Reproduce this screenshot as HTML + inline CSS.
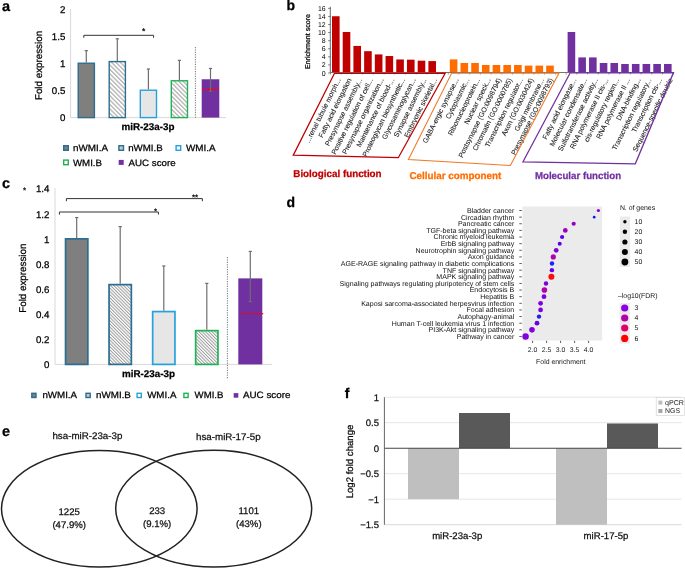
<!DOCTYPE html>
<html><head><meta charset="utf-8"><style>
html,body{margin:0;padding:0;background:#fff;}
svg{display:block;font-family:"Liberation Sans", sans-serif;text-rendering:geometricPrecision;will-change:transform;}
</style></head><body>
<svg width="685" height="569" viewBox="0 0 685 569">
<rect width="685" height="569" fill="#fff"/>
<defs><pattern id="hatchA" patternUnits="userSpaceOnUse" width="3.1" height="4" patternTransform="rotate(-45)"><rect width="3.1" height="4" fill="#fff"/><line x1="0.7" y1="0" x2="0.7" y2="4" stroke="#a0a0a0" stroke-width="1.05"/></pattern><pattern id="hatchC" patternUnits="userSpaceOnUse" width="2.3" height="4" patternTransform="rotate(-45)"><rect width="2.3" height="4" fill="#fff"/><line x1="0.5" y1="0" x2="0.5" y2="4" stroke="#9c9c9c" stroke-width="1.0"/></pattern></defs>
<line x1="70.60" y1="9.00" x2="70.60" y2="117.60" stroke="#d9d9d9" stroke-width="1" />
<line x1="70.60" y1="117.60" x2="226.00" y2="117.60" stroke="#d9d9d9" stroke-width="1" />
<rect x="78.20" y="63.22" width="16.20" height="54.38" fill="#7f7f7f" stroke="#2c6e90" stroke-width="1.4" />
<rect x="109.20" y="61.60" width="16.20" height="56.00" fill="url(#hatchA)" stroke="#2c6e90" stroke-width="1.4" />
<rect x="140.30" y="90.22" width="16.20" height="27.38" fill="#e7e6e6" stroke="#27a0de" stroke-width="1.4" />
<rect x="171.30" y="80.77" width="16.20" height="36.83" fill="url(#hatchA)" stroke="#1fb254" stroke-width="1.4" />
<rect x="201.70" y="79.26" width="17.60" height="38.34" fill="#7030a0" stroke="none" stroke-width="0" />
<line x1="86.30" y1="50.64" x2="86.30" y2="62.52" stroke="#6e6e6e" stroke-width="1.2" />
<line x1="84.70" y1="50.64" x2="87.90" y2="50.64" stroke="#6e6e6e" stroke-width="1.2" />
<line x1="117.30" y1="38.76" x2="117.30" y2="60.90" stroke="#6e6e6e" stroke-width="1.2" />
<line x1="115.70" y1="38.76" x2="118.90" y2="38.76" stroke="#6e6e6e" stroke-width="1.2" />
<line x1="148.40" y1="69.00" x2="148.40" y2="89.52" stroke="#6e6e6e" stroke-width="1.2" />
<line x1="146.80" y1="69.00" x2="150.00" y2="69.00" stroke="#6e6e6e" stroke-width="1.2" />
<line x1="179.40" y1="60.36" x2="179.40" y2="80.07" stroke="#6e6e6e" stroke-width="1.2" />
<line x1="177.80" y1="60.36" x2="181.00" y2="60.36" stroke="#6e6e6e" stroke-width="1.2" />
<line x1="210.50" y1="68.46" x2="210.50" y2="91.14" stroke="#6e6e6e" stroke-width="1.2" />
<line x1="208.90" y1="68.46" x2="212.10" y2="68.46" stroke="#6e6e6e" stroke-width="1.2" />
<line x1="208.90" y1="91.14" x2="212.10" y2="91.14" stroke="#6e6e6e" stroke-width="1.2" />
<line x1="202.00" y1="89.52" x2="219.20" y2="89.52" stroke="#ff0000" stroke-width="1.3" stroke-dasharray="2.0,1.0"/>
<line x1="195.40" y1="47.00" x2="195.40" y2="117.60" stroke="#555" stroke-width="0.8" stroke-dasharray="1.2,1.2"/>
<text x="2.00" y="10.60" font-size="14.5" text-anchor="start" font-weight="bold" fill="#000" stroke="#000" stroke-width="0.25" >a</text>
<text x="65.30" y="13.20" font-size="9.7" text-anchor="end" font-weight="normal" fill="#000" stroke="#000" stroke-width="0.25" >2</text>
<text x="65.30" y="40.20" font-size="9.7" text-anchor="end" font-weight="normal" fill="#000" stroke="#000" stroke-width="0.25" >1.5</text>
<text x="65.30" y="67.20" font-size="9.7" text-anchor="end" font-weight="normal" fill="#000" stroke="#000" stroke-width="0.25" >1</text>
<text x="65.30" y="94.20" font-size="9.7" text-anchor="end" font-weight="normal" fill="#000" stroke="#000" stroke-width="0.25" >0.5</text>
<text x="65.30" y="121.20" font-size="9.7" text-anchor="end" font-weight="normal" fill="#000" stroke="#000" stroke-width="0.25" >0</text>
<text transform="translate(42.2,65.5) rotate(-90)" font-size="9.8" stroke="#000" stroke-width="0.25" text-anchor="middle" fill="#000">Fold expression</text>
<text x="148.00" y="129.80" font-size="9.8" text-anchor="middle" font-weight="bold" fill="#000" stroke="#000" stroke-width="0.25" >miR-23a-3p</text>
<path d="M83.8,37.8 V35.3 H153.6 V37.8" fill="none" stroke="#333" stroke-width="1"/>
<text x="143.60" y="34.00" font-size="8.5" text-anchor="middle" font-weight="normal" fill="#000" stroke="#000" stroke-width="0.25" >*</text>
<rect x="63.70" y="145.70" width="4.60" height="4.60" fill="#7f7f7f" stroke="#2c6e90" stroke-width="1.4" />
<text x="73.00" y="151.20" font-size="9.2" text-anchor="start" font-weight="normal" fill="#000" stroke="#000" stroke-width="0.25" textLength="35" lengthAdjust="spacingAndGlyphs" >nWMI.A</text>
<rect x="118.90" y="145.70" width="4.60" height="4.60" fill="#c8c8c8" stroke="#2c6e90" stroke-width="1.4" />
<text x="128.20" y="151.20" font-size="9.2" text-anchor="start" font-weight="normal" fill="#000" stroke="#000" stroke-width="0.25" textLength="34.5" lengthAdjust="spacingAndGlyphs" >nWMI.B</text>
<rect x="176.10" y="145.70" width="4.60" height="4.60" fill="#ffffff" stroke="#27a0de" stroke-width="1.4" />
<text x="186.00" y="151.20" font-size="9.2" text-anchor="start" font-weight="normal" fill="#000" stroke="#000" stroke-width="0.25" textLength="29.6" lengthAdjust="spacingAndGlyphs" >WMI.A</text>
<rect x="63.70" y="160.10" width="4.60" height="4.60" fill="#ffffff" stroke="#1fb254" stroke-width="1.4" />
<text x="73.00" y="165.60" font-size="9.2" text-anchor="start" font-weight="normal" fill="#000" stroke="#000" stroke-width="0.25" textLength="29" lengthAdjust="spacingAndGlyphs" >WMI.B</text>
<rect x="118.70" y="159.90" width="5.00" height="5.00" fill="#7030a0" stroke="none" stroke-width="0" />
<text x="128.60" y="165.60" font-size="9.2" text-anchor="start" font-weight="normal" fill="#000" stroke="#000" stroke-width="0.25" textLength="47" lengthAdjust="spacingAndGlyphs" >AUC score</text>
<line x1="55.00" y1="188.00" x2="55.00" y2="364.40" stroke="#d9d9d9" stroke-width="1" />
<line x1="55.00" y1="364.40" x2="272.00" y2="364.40" stroke="#d9d9d9" stroke-width="1" />
<rect x="65.55" y="238.85" width="22.30" height="125.55" fill="#7f7f7f" stroke="#2c6e90" stroke-width="1.7" />
<rect x="109.05" y="284.62" width="22.30" height="79.78" fill="url(#hatchC)" stroke="#2c6e90" stroke-width="1.7" />
<rect x="152.65" y="311.58" width="22.30" height="52.82" fill="#e7e6e6" stroke="#27a0de" stroke-width="1.7" />
<rect x="195.65" y="330.64" width="22.30" height="33.76" fill="url(#hatchC)" stroke="#1fb254" stroke-width="1.7" />
<rect x="238.30" y="278.38" width="24.00" height="86.02" fill="#7030a0" stroke="none" stroke-width="0" />
<line x1="76.70" y1="217.56" x2="76.70" y2="238.00" stroke="#6e6e6e" stroke-width="1.2" />
<line x1="75.10" y1="217.56" x2="78.30" y2="217.56" stroke="#6e6e6e" stroke-width="1.2" />
<line x1="120.20" y1="226.59" x2="120.20" y2="283.77" stroke="#6e6e6e" stroke-width="1.2" />
<line x1="118.60" y1="226.59" x2="121.80" y2="226.59" stroke="#6e6e6e" stroke-width="1.2" />
<line x1="163.80" y1="265.96" x2="163.80" y2="310.73" stroke="#6e6e6e" stroke-width="1.2" />
<line x1="162.20" y1="265.96" x2="165.40" y2="265.96" stroke="#6e6e6e" stroke-width="1.2" />
<line x1="206.80" y1="283.39" x2="206.80" y2="329.79" stroke="#6e6e6e" stroke-width="1.2" />
<line x1="205.20" y1="283.39" x2="208.40" y2="283.39" stroke="#6e6e6e" stroke-width="1.2" />
<line x1="250.30" y1="251.41" x2="250.30" y2="301.57" stroke="#6e6e6e" stroke-width="1.2" />
<line x1="248.70" y1="251.41" x2="251.90" y2="251.41" stroke="#6e6e6e" stroke-width="1.2" />
<line x1="248.70" y1="301.57" x2="251.90" y2="301.57" stroke="#6e6e6e" stroke-width="1.2" />
<line x1="241.00" y1="313.61" x2="264.00" y2="313.61" stroke="#ff0000" stroke-width="1.4" stroke-dasharray="1.9,1.0"/>
<line x1="227.40" y1="257.00" x2="227.40" y2="379.00" stroke="#555" stroke-width="0.8" stroke-dasharray="1.2,1.2"/>
<text x="2.00" y="188.30" font-size="14.5" text-anchor="start" font-weight="bold" fill="#000" stroke="#000" stroke-width="0.25" >c</text>
<text x="24.60" y="193.00" font-size="8" text-anchor="middle" font-weight="normal" fill="#000" stroke="#000" stroke-width="0.25" >*</text>
<text x="49.40" y="192.44" font-size="9.7" text-anchor="end" font-weight="normal" fill="#000" stroke="#000" stroke-width="0.25" >1.4</text>
<text x="49.40" y="217.52" font-size="9.7" text-anchor="end" font-weight="normal" fill="#000" stroke="#000" stroke-width="0.25" >1.2</text>
<text x="49.40" y="242.60" font-size="9.7" text-anchor="end" font-weight="normal" fill="#000" stroke="#000" stroke-width="0.25" >1</text>
<text x="49.40" y="267.68" font-size="9.7" text-anchor="end" font-weight="normal" fill="#000" stroke="#000" stroke-width="0.25" >0.8</text>
<text x="49.40" y="292.76" font-size="9.7" text-anchor="end" font-weight="normal" fill="#000" stroke="#000" stroke-width="0.25" >0.6</text>
<text x="49.40" y="317.84" font-size="9.7" text-anchor="end" font-weight="normal" fill="#000" stroke="#000" stroke-width="0.25" >0.4</text>
<text x="49.40" y="342.92" font-size="9.7" text-anchor="end" font-weight="normal" fill="#000" stroke="#000" stroke-width="0.25" >0.2</text>
<text x="49.40" y="368.00" font-size="9.7" text-anchor="end" font-weight="normal" fill="#000" stroke="#000" stroke-width="0.25" >0</text>
<text transform="translate(25.8,278.2) rotate(-90)" font-size="9.8" stroke="#000" stroke-width="0.25" text-anchor="middle" fill="#000">Fold expression</text>
<text x="148.50" y="376.90" font-size="9.8" text-anchor="middle" font-weight="bold" fill="#000" stroke="#000" stroke-width="0.25" >miR-23a-3p</text>
<path d="M66.4,201.2 V198.6 H202.4 V201.2" fill="none" stroke="#333" stroke-width="1"/>
<path d="M59.4,214.6 V212.0 H158.4 V214.6" fill="none" stroke="#333" stroke-width="1"/>
<text x="195.00" y="200.20" font-size="8" text-anchor="middle" font-weight="normal" fill="#000" stroke="#000" stroke-width="0.25" >**</text>
<text x="155.60" y="213.80" font-size="8" text-anchor="middle" font-weight="normal" fill="#000" stroke="#000" stroke-width="0.25" >*</text>
<rect x="31.80" y="393.30" width="4.20" height="4.20" fill="#7f7f7f" stroke="#2c6e90" stroke-width="1.4" />
<text x="42.40" y="398.40" font-size="9.2" text-anchor="start" font-weight="normal" fill="#000" stroke="#000" stroke-width="0.25" textLength="34.7" lengthAdjust="spacingAndGlyphs" >nWMI.A</text>
<rect x="86.00" y="393.30" width="4.20" height="4.20" fill="#c8c8c8" stroke="#2c6e90" stroke-width="1.4" />
<text x="96.10" y="398.40" font-size="9.2" text-anchor="start" font-weight="normal" fill="#000" stroke="#000" stroke-width="0.25" textLength="34.8" lengthAdjust="spacingAndGlyphs" >nWMI.B</text>
<rect x="137.10" y="393.30" width="4.20" height="4.20" fill="#ffffff" stroke="#27a0de" stroke-width="1.4" />
<text x="147.20" y="398.40" font-size="9.2" text-anchor="start" font-weight="normal" fill="#000" stroke="#000" stroke-width="0.25" textLength="29.2" lengthAdjust="spacingAndGlyphs" >WMI.A</text>
<rect x="183.90" y="393.30" width="4.20" height="4.20" fill="#ffffff" stroke="#1fb254" stroke-width="1.4" />
<text x="194.60" y="398.40" font-size="9.2" text-anchor="start" font-weight="normal" fill="#000" stroke="#000" stroke-width="0.25" textLength="28.8" lengthAdjust="spacingAndGlyphs" >WMI.B</text>
<rect x="233.70" y="393.10" width="4.60" height="4.60" fill="#7030a0" stroke="none" stroke-width="0" />
<text x="243.00" y="398.40" font-size="9.2" text-anchor="start" font-weight="normal" fill="#000" stroke="#000" stroke-width="0.25" textLength="47.4" lengthAdjust="spacingAndGlyphs" >AUC score</text>
<text x="286.60" y="10.20" font-size="14" text-anchor="start" font-weight="bold" fill="#000" stroke="#000" stroke-width="0.25" >b</text>
<line x1="330.30" y1="6.80" x2="330.30" y2="73.00" stroke="#555" stroke-width="0.9" />
<line x1="328.20" y1="73.00" x2="330.30" y2="73.00" stroke="#555" stroke-width="0.8" />
<text x="325.60" y="75.50" font-size="7.0" text-anchor="end" font-weight="normal" fill="#000" textLength="3.9" lengthAdjust="spacingAndGlyphs" >0</text>
<line x1="328.20" y1="64.92" x2="330.30" y2="64.92" stroke="#555" stroke-width="0.8" />
<text x="325.60" y="67.42" font-size="7.0" text-anchor="end" font-weight="normal" fill="#000" textLength="3.9" lengthAdjust="spacingAndGlyphs" >2</text>
<line x1="328.20" y1="56.84" x2="330.30" y2="56.84" stroke="#555" stroke-width="0.8" />
<text x="325.60" y="59.34" font-size="7.0" text-anchor="end" font-weight="normal" fill="#000" textLength="3.9" lengthAdjust="spacingAndGlyphs" >4</text>
<line x1="328.20" y1="48.76" x2="330.30" y2="48.76" stroke="#555" stroke-width="0.8" />
<text x="325.60" y="51.26" font-size="7.0" text-anchor="end" font-weight="normal" fill="#000" textLength="3.9" lengthAdjust="spacingAndGlyphs" >6</text>
<line x1="328.20" y1="40.68" x2="330.30" y2="40.68" stroke="#555" stroke-width="0.8" />
<text x="325.60" y="43.18" font-size="7.0" text-anchor="end" font-weight="normal" fill="#000" textLength="3.9" lengthAdjust="spacingAndGlyphs" >8</text>
<line x1="328.20" y1="32.60" x2="330.30" y2="32.60" stroke="#555" stroke-width="0.8" />
<text x="325.60" y="35.10" font-size="7.0" text-anchor="end" font-weight="normal" fill="#000" textLength="7.7" lengthAdjust="spacingAndGlyphs" >10</text>
<line x1="328.20" y1="24.52" x2="330.30" y2="24.52" stroke="#555" stroke-width="0.8" />
<text x="325.60" y="27.02" font-size="7.0" text-anchor="end" font-weight="normal" fill="#000" textLength="7.7" lengthAdjust="spacingAndGlyphs" >12</text>
<line x1="328.20" y1="16.44" x2="330.30" y2="16.44" stroke="#555" stroke-width="0.8" />
<text x="325.60" y="18.94" font-size="7.0" text-anchor="end" font-weight="normal" fill="#000" textLength="7.7" lengthAdjust="spacingAndGlyphs" >14</text>
<line x1="328.20" y1="8.36" x2="330.30" y2="8.36" stroke="#555" stroke-width="0.8" />
<text x="325.60" y="10.86" font-size="7.0" text-anchor="end" font-weight="normal" fill="#000" textLength="7.7" lengthAdjust="spacingAndGlyphs" >16</text>
<text transform="translate(310.0,41.5) rotate(-90)" font-size="7" stroke="#000" stroke-width="0.25" text-anchor="middle" fill="#000" textLength="55" lengthAdjust="spacingAndGlyphs">Enrichment score</text>
<rect x="332.00" y="16.24" width="7.60" height="56.36" fill="#c00000" stroke="none" stroke-width="0" />
<rect x="342.71" y="31.99" width="7.60" height="40.61" fill="#c00000" stroke="none" stroke-width="0" />
<rect x="353.42" y="45.93" width="7.60" height="26.67" fill="#c00000" stroke="none" stroke-width="0" />
<rect x="364.13" y="51.18" width="7.60" height="21.42" fill="#c00000" stroke="none" stroke-width="0" />
<rect x="374.84" y="54.42" width="7.60" height="18.18" fill="#c00000" stroke="none" stroke-width="0" />
<rect x="385.55" y="56.03" width="7.60" height="16.57" fill="#c00000" stroke="none" stroke-width="0" />
<rect x="396.26" y="59.47" width="7.60" height="13.13" fill="#c00000" stroke="none" stroke-width="0" />
<rect x="406.97" y="59.67" width="7.60" height="12.93" fill="#c00000" stroke="none" stroke-width="0" />
<rect x="417.68" y="60.68" width="7.60" height="11.92" fill="#c00000" stroke="none" stroke-width="0" />
<rect x="428.39" y="61.08" width="7.60" height="11.52" fill="#c00000" stroke="none" stroke-width="0" />
<rect x="449.81" y="59.39" width="7.60" height="13.21" fill="#ff6d00" stroke="none" stroke-width="0" />
<rect x="460.52" y="62.98" width="7.60" height="9.62" fill="#ff6d00" stroke="none" stroke-width="0" />
<rect x="471.23" y="62.98" width="7.60" height="9.62" fill="#ff6d00" stroke="none" stroke-width="0" />
<rect x="481.94" y="65.00" width="7.60" height="7.60" fill="#ff6d00" stroke="none" stroke-width="0" />
<rect x="492.65" y="65.00" width="7.60" height="7.60" fill="#ff6d00" stroke="none" stroke-width="0" />
<rect x="503.36" y="65.00" width="7.60" height="7.60" fill="#ff6d00" stroke="none" stroke-width="0" />
<rect x="514.07" y="65.00" width="7.60" height="7.60" fill="#ff6d00" stroke="none" stroke-width="0" />
<rect x="524.78" y="65.61" width="7.60" height="6.99" fill="#ff6d00" stroke="none" stroke-width="0" />
<rect x="535.49" y="65.61" width="7.60" height="6.99" fill="#ff6d00" stroke="none" stroke-width="0" />
<rect x="546.20" y="65.61" width="7.60" height="6.99" fill="#ff6d00" stroke="none" stroke-width="0" />
<rect x="567.62" y="31.99" width="7.60" height="40.61" fill="#7030a0" stroke="none" stroke-width="0" />
<rect x="578.33" y="57.41" width="7.60" height="15.19" fill="#7030a0" stroke="none" stroke-width="0" />
<rect x="589.04" y="57.41" width="7.60" height="15.19" fill="#7030a0" stroke="none" stroke-width="0" />
<rect x="599.75" y="62.98" width="7.60" height="9.62" fill="#7030a0" stroke="none" stroke-width="0" />
<rect x="610.46" y="62.98" width="7.60" height="9.62" fill="#7030a0" stroke="none" stroke-width="0" />
<rect x="621.17" y="63.99" width="7.60" height="8.61" fill="#7030a0" stroke="none" stroke-width="0" />
<rect x="631.88" y="63.99" width="7.60" height="8.61" fill="#7030a0" stroke="none" stroke-width="0" />
<rect x="642.59" y="63.99" width="7.60" height="8.61" fill="#7030a0" stroke="none" stroke-width="0" />
<rect x="653.30" y="63.99" width="7.60" height="8.61" fill="#7030a0" stroke="none" stroke-width="0" />
<rect x="664.01" y="63.99" width="7.60" height="8.61" fill="#7030a0" stroke="none" stroke-width="0" />
<line x1="330.30" y1="72.50" x2="673.50" y2="72.50" stroke="#666" stroke-width="0.9" />
<line x1="330.50" y1="72.50" x2="330.50" y2="74.60" stroke="#777" stroke-width="0.7" />
<line x1="341.21" y1="72.50" x2="341.21" y2="74.60" stroke="#777" stroke-width="0.7" />
<line x1="351.92" y1="72.50" x2="351.92" y2="74.60" stroke="#777" stroke-width="0.7" />
<line x1="362.63" y1="72.50" x2="362.63" y2="74.60" stroke="#777" stroke-width="0.7" />
<line x1="373.34" y1="72.50" x2="373.34" y2="74.60" stroke="#777" stroke-width="0.7" />
<line x1="384.05" y1="72.50" x2="384.05" y2="74.60" stroke="#777" stroke-width="0.7" />
<line x1="394.76" y1="72.50" x2="394.76" y2="74.60" stroke="#777" stroke-width="0.7" />
<line x1="405.47" y1="72.50" x2="405.47" y2="74.60" stroke="#777" stroke-width="0.7" />
<line x1="416.18" y1="72.50" x2="416.18" y2="74.60" stroke="#777" stroke-width="0.7" />
<line x1="426.89" y1="72.50" x2="426.89" y2="74.60" stroke="#777" stroke-width="0.7" />
<line x1="437.60" y1="72.50" x2="437.60" y2="74.60" stroke="#777" stroke-width="0.7" />
<line x1="448.31" y1="72.50" x2="448.31" y2="74.60" stroke="#777" stroke-width="0.7" />
<line x1="459.02" y1="72.50" x2="459.02" y2="74.60" stroke="#777" stroke-width="0.7" />
<line x1="469.73" y1="72.50" x2="469.73" y2="74.60" stroke="#777" stroke-width="0.7" />
<line x1="480.44" y1="72.50" x2="480.44" y2="74.60" stroke="#777" stroke-width="0.7" />
<line x1="491.15" y1="72.50" x2="491.15" y2="74.60" stroke="#777" stroke-width="0.7" />
<line x1="501.86" y1="72.50" x2="501.86" y2="74.60" stroke="#777" stroke-width="0.7" />
<line x1="512.57" y1="72.50" x2="512.57" y2="74.60" stroke="#777" stroke-width="0.7" />
<line x1="523.28" y1="72.50" x2="523.28" y2="74.60" stroke="#777" stroke-width="0.7" />
<line x1="533.99" y1="72.50" x2="533.99" y2="74.60" stroke="#777" stroke-width="0.7" />
<line x1="544.70" y1="72.50" x2="544.70" y2="74.60" stroke="#777" stroke-width="0.7" />
<line x1="555.41" y1="72.50" x2="555.41" y2="74.60" stroke="#777" stroke-width="0.7" />
<line x1="566.12" y1="72.50" x2="566.12" y2="74.60" stroke="#777" stroke-width="0.7" />
<line x1="576.83" y1="72.50" x2="576.83" y2="74.60" stroke="#777" stroke-width="0.7" />
<line x1="587.54" y1="72.50" x2="587.54" y2="74.60" stroke="#777" stroke-width="0.7" />
<line x1="598.25" y1="72.50" x2="598.25" y2="74.60" stroke="#777" stroke-width="0.7" />
<line x1="608.96" y1="72.50" x2="608.96" y2="74.60" stroke="#777" stroke-width="0.7" />
<line x1="619.67" y1="72.50" x2="619.67" y2="74.60" stroke="#777" stroke-width="0.7" />
<line x1="630.38" y1="72.50" x2="630.38" y2="74.60" stroke="#777" stroke-width="0.7" />
<line x1="641.09" y1="72.50" x2="641.09" y2="74.60" stroke="#777" stroke-width="0.7" />
<line x1="651.80" y1="72.50" x2="651.80" y2="74.60" stroke="#777" stroke-width="0.7" />
<line x1="662.51" y1="72.50" x2="662.51" y2="74.60" stroke="#777" stroke-width="0.7" />
<line x1="673.22" y1="72.50" x2="673.22" y2="74.60" stroke="#777" stroke-width="0.7" />
<text transform="translate(341.00,79.60) rotate(-63.5)" font-size="7.1" text-anchor="end" fill="#1a1a1a" stroke="#1a1a1a" stroke-width="0.08">...renal tubule morph...</text>
<text transform="translate(351.71,79.60) rotate(-63.5)" font-size="7.1" text-anchor="end" fill="#1a1a1a" stroke="#1a1a1a" stroke-width="0.08">Fatty acid elongation</text>
<text transform="translate(362.42,79.60) rotate(-63.5)" font-size="7.1" text-anchor="end" fill="#1a1a1a" stroke="#1a1a1a" stroke-width="0.08">Presynapse assembly...</text>
<text transform="translate(373.13,79.60) rotate(-63.5)" font-size="7.1" text-anchor="end" fill="#1a1a1a" stroke="#1a1a1a" stroke-width="0.08">Positive regulation of cell...</text>
<text transform="translate(383.84,79.60) rotate(-63.5)" font-size="7.1" text-anchor="end" fill="#1a1a1a" stroke="#1a1a1a" stroke-width="0.08">Presynapse organization...</text>
<text transform="translate(394.55,79.60) rotate(-63.5)" font-size="7.1" text-anchor="end" fill="#1a1a1a" stroke="#1a1a1a" stroke-width="0.08">Maintenance of blood-...</text>
<text transform="translate(405.26,79.60) rotate(-63.5)" font-size="7.1" text-anchor="end" fill="#1a1a1a" stroke="#1a1a1a" stroke-width="0.08">Proteoglycan biosynthetic...</text>
<text transform="translate(415.97,79.60) rotate(-63.5)" font-size="7.1" text-anchor="end" fill="#1a1a1a" stroke="#1a1a1a" stroke-width="0.08">Glycosaminoglycan...</text>
<text transform="translate(426.68,79.60) rotate(-63.5)" font-size="7.1" text-anchor="end" fill="#1a1a1a" stroke="#1a1a1a" stroke-width="0.08">Synapse assembly...</text>
<text transform="translate(437.39,79.60) rotate(-63.5)" font-size="7.1" text-anchor="end" fill="#1a1a1a" stroke="#1a1a1a" stroke-width="0.08">Embryonic skeletal...</text>
<text transform="translate(458.81,79.60) rotate(-63.5)" font-size="7.1" text-anchor="end" fill="#1a1a1a" stroke="#1a1a1a" stroke-width="0.08">GABA-ergic synapse...</text>
<text transform="translate(469.52,79.60) rotate(-63.5)" font-size="7.1" text-anchor="end" fill="#1a1a1a" stroke="#1a1a1a" stroke-width="0.08">Cytoplasmic...</text>
<text transform="translate(480.23,79.60) rotate(-63.5)" font-size="7.1" text-anchor="end" fill="#1a1a1a" stroke="#1a1a1a" stroke-width="0.08">Ribonucleoprotein...</text>
<text transform="translate(490.94,79.60) rotate(-63.5)" font-size="7.1" text-anchor="end" fill="#1a1a1a" stroke="#1a1a1a" stroke-width="0.08">Nuclear speck...</text>
<text transform="translate(501.65,79.60) rotate(-63.5)" font-size="7.1" text-anchor="end" fill="#1a1a1a" stroke="#1a1a1a" stroke-width="0.08">Postsynapse (GO:0098794)</text>
<text transform="translate(512.36,79.60) rotate(-63.5)" font-size="7.1" text-anchor="end" fill="#1a1a1a" stroke="#1a1a1a" stroke-width="0.08">Chromatin (GO:0000785)</text>
<text transform="translate(523.07,79.60) rotate(-63.5)" font-size="7.1" text-anchor="end" fill="#1a1a1a" stroke="#1a1a1a" stroke-width="0.08">Transcription regulator...</text>
<text transform="translate(533.78,79.60) rotate(-63.5)" font-size="7.1" text-anchor="end" fill="#1a1a1a" stroke="#1a1a1a" stroke-width="0.08">Axon (GO:0030424)</text>
<text transform="translate(544.49,79.60) rotate(-63.5)" font-size="7.1" text-anchor="end" fill="#1a1a1a" stroke="#1a1a1a" stroke-width="0.08">Golgi membrane...</text>
<text transform="translate(553.20,79.60) rotate(-63.5)" font-size="7.1" text-anchor="end" fill="#1a1a1a" stroke="#1a1a1a" stroke-width="0.08">Presynapse (GO:0098793)</text>
<text transform="translate(576.62,79.60) rotate(-63.5)" font-size="7.1" text-anchor="end" fill="#1a1a1a" stroke="#1a1a1a" stroke-width="0.08">Fatty acid elongase...</text>
<text transform="translate(587.33,79.60) rotate(-63.5)" font-size="7.1" text-anchor="end" fill="#1a1a1a" stroke="#1a1a1a" stroke-width="0.08">Molecular condensate...</text>
<text transform="translate(598.04,79.60) rotate(-63.5)" font-size="7.1" text-anchor="end" fill="#1a1a1a" stroke="#1a1a1a" stroke-width="0.08">Sulfotransferase activity...</text>
<text transform="translate(608.75,79.60) rotate(-63.5)" font-size="7.1" text-anchor="end" fill="#1a1a1a" stroke="#1a1a1a" stroke-width="0.08">RNA polymerase II cis-...</text>
<text transform="translate(619.46,79.60) rotate(-63.5)" font-size="7.1" text-anchor="end" fill="#1a1a1a" stroke="#1a1a1a" stroke-width="0.08">cis-regulatory region...</text>
<text transform="translate(630.17,79.60) rotate(-63.5)" font-size="7.1" text-anchor="end" fill="#1a1a1a" stroke="#1a1a1a" stroke-width="0.08">RNA polymerase II ...</text>
<text transform="translate(640.88,79.60) rotate(-63.5)" font-size="7.1" text-anchor="end" fill="#1a1a1a" stroke="#1a1a1a" stroke-width="0.08">DNA-binding...</text>
<text transform="translate(651.59,79.60) rotate(-63.5)" font-size="7.1" text-anchor="end" fill="#1a1a1a" stroke="#1a1a1a" stroke-width="0.08">Transcription regulatory...</text>
<text transform="translate(662.30,79.60) rotate(-63.5)" font-size="7.1" text-anchor="end" fill="#1a1a1a" stroke="#1a1a1a" stroke-width="0.08">Transcription cis-...</text>
<text transform="translate(673.01,79.60) rotate(-63.5)" font-size="7.1" text-anchor="end" fill="#1a1a1a" stroke="#1a1a1a" stroke-width="0.08">Sequence-specific double</text>
<polygon points="334.5,73.3 445.2,73.2 398.3,157.7 293.3,155.2" fill="none" stroke="#c00000" stroke-width="1.3"/>
<polygon points="451.6,73.3 559.0,73.0 510.4,165.5 408.4,159.5" fill="none" stroke="#f07a2a" stroke-width="1.1"/>
<polygon points="570.2,72.8 673.5,72.6 635.3,163.8 523.0,161.8" fill="none" stroke="#7030a0" stroke-width="1.3"/>
<text x="293.30" y="177.20" font-size="10" text-anchor="start" font-weight="bold" fill="#c00000" stroke="#c00000" stroke-width="0.25" textLength="88.3" lengthAdjust="spacingAndGlyphs" >Biological function</text>
<text x="409.40" y="178.60" font-size="10" text-anchor="start" font-weight="bold" fill="#ff6d00" stroke="#ff6d00" stroke-width="0.25" textLength="91.8" lengthAdjust="spacingAndGlyphs" >Cellular component</text>
<text x="534.90" y="178.80" font-size="10" text-anchor="start" font-weight="bold" fill="#7030a0" stroke="#7030a0" stroke-width="0.25" textLength="86.3" lengthAdjust="spacingAndGlyphs" >Molecular function</text>
<text x="286.60" y="206.90" font-size="14" text-anchor="start" font-weight="bold" fill="#000" stroke="#000" stroke-width="0.25" >d</text>
<rect x="522.40" y="206.50" width="79.70" height="134.00" fill="#ebebeb" stroke="none" stroke-width="0" />
<text x="514.30" y="212.90" font-size="7.05" text-anchor="end" font-weight="normal" fill="#111" >Bladder cancer</text>
<line x1="519.30" y1="210.50" x2="521.80" y2="210.50" stroke="#333" stroke-width="0.8" />
<text x="514.30" y="219.53" font-size="7.05" text-anchor="end" font-weight="normal" fill="#111" >Circadian rhythm</text>
<line x1="519.30" y1="217.13" x2="521.80" y2="217.13" stroke="#333" stroke-width="0.8" />
<text x="514.30" y="226.16" font-size="7.05" text-anchor="end" font-weight="normal" fill="#111" >Pancreatic cancer</text>
<line x1="519.30" y1="223.76" x2="521.80" y2="223.76" stroke="#333" stroke-width="0.8" />
<text x="514.30" y="232.79" font-size="7.05" text-anchor="end" font-weight="normal" fill="#111" >TGF-beta signaling pathway</text>
<line x1="519.30" y1="230.39" x2="521.80" y2="230.39" stroke="#333" stroke-width="0.8" />
<text x="514.30" y="239.42" font-size="7.05" text-anchor="end" font-weight="normal" fill="#111" >Chronic myeloid leukemia</text>
<line x1="519.30" y1="237.02" x2="521.80" y2="237.02" stroke="#333" stroke-width="0.8" />
<text x="514.30" y="246.05" font-size="7.05" text-anchor="end" font-weight="normal" fill="#111" >ErbB signaling pathway</text>
<line x1="519.30" y1="243.65" x2="521.80" y2="243.65" stroke="#333" stroke-width="0.8" />
<text x="514.30" y="252.68" font-size="7.05" text-anchor="end" font-weight="normal" fill="#111" >Neurotrophin signaling pathway</text>
<line x1="519.30" y1="250.28" x2="521.80" y2="250.28" stroke="#333" stroke-width="0.8" />
<text x="514.30" y="259.31" font-size="7.05" text-anchor="end" font-weight="normal" fill="#111" >Axon guidance</text>
<line x1="519.30" y1="256.91" x2="521.80" y2="256.91" stroke="#333" stroke-width="0.8" />
<text x="514.30" y="265.94" font-size="7.05" text-anchor="end" font-weight="normal" fill="#111" >AGE-RAGE signaling pathway in diabetic complications</text>
<line x1="519.30" y1="263.54" x2="521.80" y2="263.54" stroke="#333" stroke-width="0.8" />
<text x="514.30" y="272.57" font-size="7.05" text-anchor="end" font-weight="normal" fill="#111" >TNF signaling pathway</text>
<line x1="519.30" y1="270.17" x2="521.80" y2="270.17" stroke="#333" stroke-width="0.8" />
<text x="514.30" y="279.20" font-size="7.05" text-anchor="end" font-weight="normal" fill="#111" >MAPK signaling pathway</text>
<line x1="519.30" y1="276.80" x2="521.80" y2="276.80" stroke="#333" stroke-width="0.8" />
<text x="514.30" y="285.83" font-size="7.05" text-anchor="end" font-weight="normal" fill="#111" >Signaling pathways regulating pluripotency of stem cells</text>
<line x1="519.30" y1="283.43" x2="521.80" y2="283.43" stroke="#333" stroke-width="0.8" />
<text x="514.30" y="292.46" font-size="7.05" text-anchor="end" font-weight="normal" fill="#111" >Endocytosis B</text>
<line x1="519.30" y1="290.06" x2="521.80" y2="290.06" stroke="#333" stroke-width="0.8" />
<text x="514.30" y="299.09" font-size="7.05" text-anchor="end" font-weight="normal" fill="#111" >Hepatitis B</text>
<line x1="519.30" y1="296.69" x2="521.80" y2="296.69" stroke="#333" stroke-width="0.8" />
<text x="514.30" y="305.72" font-size="7.05" text-anchor="end" font-weight="normal" fill="#111" >Kaposi sarcoma-associated herpesvirus infection</text>
<line x1="519.30" y1="303.32" x2="521.80" y2="303.32" stroke="#333" stroke-width="0.8" />
<text x="514.30" y="312.35" font-size="7.05" text-anchor="end" font-weight="normal" fill="#111" >Focal adhesion</text>
<line x1="519.30" y1="309.95" x2="521.80" y2="309.95" stroke="#333" stroke-width="0.8" />
<text x="514.30" y="318.98" font-size="7.05" text-anchor="end" font-weight="normal" fill="#111" >Autophagy-animal</text>
<line x1="519.30" y1="316.58" x2="521.80" y2="316.58" stroke="#333" stroke-width="0.8" />
<text x="514.30" y="325.61" font-size="7.05" text-anchor="end" font-weight="normal" fill="#111" >Human T-cell leukemia virus 1 infection</text>
<line x1="519.30" y1="323.21" x2="521.80" y2="323.21" stroke="#333" stroke-width="0.8" />
<text x="514.30" y="332.24" font-size="7.05" text-anchor="end" font-weight="normal" fill="#111" >PI3K-Akt signaling pathway</text>
<line x1="519.30" y1="329.84" x2="521.80" y2="329.84" stroke="#333" stroke-width="0.8" />
<text x="514.30" y="338.87" font-size="7.05" text-anchor="end" font-weight="normal" fill="#111" >Pathway in cancer</text>
<line x1="519.30" y1="336.47" x2="521.80" y2="336.47" stroke="#333" stroke-width="0.8" />
<circle cx="598.4" cy="210.50" r="1.6" fill="#8a00d8"/>
<circle cx="594.2" cy="217.13" r="1.3" fill="#0a0aff"/>
<circle cx="573.7" cy="223.76" r="2.1" fill="#9200c8"/>
<circle cx="565.3" cy="230.39" r="2.35" fill="#9a00c0"/>
<circle cx="562.1" cy="237.02" r="2.1" fill="#5a00f0"/>
<circle cx="559.7" cy="243.65" r="2.0" fill="#5a00ee"/>
<circle cx="556.2" cy="250.28" r="2.35" fill="#8000d8"/>
<circle cx="553.3" cy="256.91" r="2.6" fill="#b000b0"/>
<circle cx="552.0" cy="263.54" r="2.2" fill="#2020ff"/>
<circle cx="551.9" cy="270.17" r="2.2" fill="#6a00e8"/>
<circle cx="551.4" cy="276.80" r="3.0" fill="#ff0a0a"/>
<circle cx="546.0" cy="283.43" r="2.2" fill="#7a00e6"/>
<circle cx="544.4" cy="290.06" r="2.8" fill="#b000b0"/>
<circle cx="544.0" cy="296.69" r="2.4" fill="#8000e0"/>
<circle cx="540.6" cy="303.32" r="2.4" fill="#8000e0"/>
<circle cx="540.6" cy="309.95" r="2.4" fill="#8000e0"/>
<circle cx="539.0" cy="316.58" r="2.2" fill="#2020f0"/>
<circle cx="537.0" cy="323.21" r="2.4" fill="#6a00e6"/>
<circle cx="532.0" cy="329.84" r="2.8" fill="#8000e0"/>
<circle cx="525.6" cy="336.47" r="3.2" fill="#8000e0"/>
<line x1="532.60" y1="340.80" x2="532.60" y2="343.00" stroke="#333" stroke-width="0.8" />
<text x="532.60" y="352.00" font-size="6.9" text-anchor="middle" font-weight="normal" fill="#222" >2.0</text>
<line x1="546.60" y1="340.80" x2="546.60" y2="343.00" stroke="#333" stroke-width="0.8" />
<text x="546.60" y="352.00" font-size="6.9" text-anchor="middle" font-weight="normal" fill="#222" >2.5</text>
<line x1="560.60" y1="340.80" x2="560.60" y2="343.00" stroke="#333" stroke-width="0.8" />
<text x="560.60" y="352.00" font-size="6.9" text-anchor="middle" font-weight="normal" fill="#222" >3.0</text>
<line x1="574.60" y1="340.80" x2="574.60" y2="343.00" stroke="#333" stroke-width="0.8" />
<text x="574.60" y="352.00" font-size="6.9" text-anchor="middle" font-weight="normal" fill="#222" >3.5</text>
<line x1="588.60" y1="340.80" x2="588.60" y2="343.00" stroke="#333" stroke-width="0.8" />
<text x="588.60" y="352.00" font-size="6.9" text-anchor="middle" font-weight="normal" fill="#222" >4.0</text>
<text x="560.80" y="364.00" font-size="6.9" text-anchor="middle" font-weight="normal" fill="#111" >Fold enrichment</text>
<text x="619.90" y="209.90" font-size="6.9" text-anchor="start" font-weight="normal" fill="#111" >N. of genes</text>
<rect x="619.80" y="216.50" width="10.20" height="50.50" fill="#ebebeb" stroke="none" stroke-width="0" />
<circle cx="624.9" cy="221.7" r="1.7" fill="#000"/>
<text x="634.60" y="224.10" font-size="6.9" text-anchor="start" font-weight="normal" fill="#111" >10</text>
<circle cx="624.9" cy="231.8" r="2.2" fill="#000"/>
<text x="634.60" y="234.20" font-size="6.9" text-anchor="start" font-weight="normal" fill="#111" >20</text>
<circle cx="624.9" cy="242.0" r="2.6" fill="#000"/>
<text x="634.60" y="244.40" font-size="6.9" text-anchor="start" font-weight="normal" fill="#111" >30</text>
<circle cx="624.9" cy="252.0" r="3.0" fill="#000"/>
<text x="634.60" y="254.40" font-size="6.9" text-anchor="start" font-weight="normal" fill="#111" >40</text>
<circle cx="624.9" cy="262.0" r="3.4" fill="#000"/>
<text x="634.60" y="264.40" font-size="6.9" text-anchor="start" font-weight="normal" fill="#111" >50</text>
<text x="618.00" y="298.00" font-size="6.9" text-anchor="start" font-weight="normal" fill="#111" >–log10(FDR)</text>
<rect x="619.60" y="303.00" width="10.20" height="40.60" fill="#ebebeb" stroke="none" stroke-width="0" />
<circle cx="624.7" cy="308.0" r="3.6" fill="#8a00e0"/>
<text x="634.40" y="310.40" font-size="6.9" text-anchor="start" font-weight="normal" fill="#111" >3</text>
<circle cx="624.7" cy="318.0" r="3.6" fill="#b400a8"/>
<text x="634.40" y="320.40" font-size="6.9" text-anchor="start" font-weight="normal" fill="#111" >4</text>
<circle cx="624.7" cy="328.0" r="3.6" fill="#e0006a"/>
<text x="634.40" y="330.40" font-size="6.9" text-anchor="start" font-weight="normal" fill="#111" >5</text>
<circle cx="624.7" cy="338.4" r="3.6" fill="#ff0000"/>
<text x="634.40" y="340.80" font-size="6.9" text-anchor="start" font-weight="normal" fill="#111" >6</text>
<text x="2.00" y="436.00" font-size="14.5" text-anchor="start" font-weight="bold" fill="#000" stroke="#000" stroke-width="0.25" >e</text>
<text x="87.40" y="439.40" font-size="9.6" text-anchor="middle" font-weight="normal" fill="#111" stroke="#111" stroke-width="0.25" textLength="70" lengthAdjust="spacingAndGlyphs" >hsa-miR-23a-3p</text>
<text x="228.30" y="439.80" font-size="9.6" text-anchor="middle" font-weight="normal" fill="#111" stroke="#111" stroke-width="0.25" textLength="64.6" lengthAdjust="spacingAndGlyphs" >hsa-miR-17-5p</text>
<ellipse cx="99.3" cy="508.7" rx="97.8" ry="58.3" fill="none" stroke="#222" stroke-width="1.5"/>
<ellipse cx="213.7" cy="508.6" rx="98.0" ry="58.4" fill="none" stroke="#222" stroke-width="1.5"/>
<text x="69.20" y="514.90" font-size="9.6" text-anchor="middle" font-weight="normal" fill="#111" stroke="#111" stroke-width="0.25" >1225</text>
<text x="69.20" y="527.60" font-size="9.6" text-anchor="middle" font-weight="normal" fill="#111" stroke="#111" stroke-width="0.25" >(47.9%)</text>
<text x="157.20" y="514.20" font-size="9.6" text-anchor="middle" font-weight="normal" fill="#111" stroke="#111" stroke-width="0.25" >233</text>
<text x="157.20" y="526.90" font-size="9.6" text-anchor="middle" font-weight="normal" fill="#111" stroke="#111" stroke-width="0.25" >(9.1%)</text>
<text x="248.80" y="514.20" font-size="9.6" text-anchor="middle" font-weight="normal" fill="#111" stroke="#111" stroke-width="0.25" >1101</text>
<text x="248.80" y="526.90" font-size="9.6" text-anchor="middle" font-weight="normal" fill="#111" stroke="#111" stroke-width="0.25" >(43%)</text>
<text x="344.80" y="397.60" font-size="14" text-anchor="start" font-weight="bold" fill="#000" stroke="#000" stroke-width="0.25" >f</text>
<line x1="384.40" y1="397.20" x2="681.60" y2="397.20" stroke="#e6e6e6" stroke-width="1" />
<line x1="384.40" y1="422.70" x2="681.60" y2="422.70" stroke="#e6e6e6" stroke-width="1" />
<line x1="384.40" y1="473.70" x2="681.60" y2="473.70" stroke="#e6e6e6" stroke-width="1" />
<line x1="384.40" y1="499.20" x2="681.60" y2="499.20" stroke="#e6e6e6" stroke-width="1" />
<line x1="384.40" y1="524.70" x2="681.60" y2="524.70" stroke="#d9d9d9" stroke-width="1" />
<rect x="408.00" y="448.20" width="51.00" height="51.00" fill="#bfbfbf" stroke="none" stroke-width="0" />
<rect x="459.00" y="413.01" width="51.00" height="35.19" fill="#595959" stroke="none" stroke-width="0" />
<rect x="556.00" y="448.20" width="51.00" height="76.50" fill="#bfbfbf" stroke="none" stroke-width="0" />
<rect x="607.00" y="423.46" width="51.00" height="24.74" fill="#595959" stroke="none" stroke-width="0" />
<line x1="384.40" y1="448.20" x2="681.60" y2="448.20" stroke="#444" stroke-width="1.1" />
<line x1="384.40" y1="397.20" x2="384.40" y2="524.70" stroke="#555" stroke-width="0.9" />
<text x="379.00" y="400.60" font-size="9.5" text-anchor="end" font-weight="normal" fill="#111" stroke="#111" stroke-width="0.25" >1</text>
<text x="379.00" y="426.10" font-size="9.5" text-anchor="end" font-weight="normal" fill="#111" stroke="#111" stroke-width="0.25" >0.5</text>
<text x="379.00" y="451.60" font-size="9.5" text-anchor="end" font-weight="normal" fill="#111" stroke="#111" stroke-width="0.25" >0</text>
<text x="379.00" y="477.10" font-size="9.5" text-anchor="end" font-weight="normal" fill="#111" stroke="#111" stroke-width="0.25" >−0.5</text>
<text x="379.00" y="502.60" font-size="9.5" text-anchor="end" font-weight="normal" fill="#111" stroke="#111" stroke-width="0.25" >−1</text>
<text x="379.00" y="528.10" font-size="9.5" text-anchor="end" font-weight="normal" fill="#111" stroke="#111" stroke-width="0.25" >−1.5</text>
<text transform="translate(353.4,461.5) rotate(-90)" font-size="9.6" stroke="#000" stroke-width="0.25" text-anchor="middle" fill="#111">Log2 fold change</text>
<text x="457.20" y="538.80" font-size="9.6" text-anchor="middle" font-weight="normal" fill="#111" stroke="#111" stroke-width="0.25" >miR-23a-3p</text>
<text x="606.00" y="538.60" font-size="9.6" text-anchor="middle" font-weight="normal" fill="#111" stroke="#111" stroke-width="0.25" >miR-17-5p</text>
<rect x="656.20" y="397.40" width="28.30" height="18.00" fill="#fff" stroke="#d0d0d0" stroke-width="0.6" />
<rect x="658.40" y="400.60" width="4.00" height="4.00" fill="#bfbfbf" stroke="none" stroke-width="0" />
<rect x="658.40" y="409.00" width="4.00" height="4.00" fill="#a6a6a6" stroke="none" stroke-width="0" />
<text x="665.00" y="405.00" font-size="7" text-anchor="start" font-weight="normal" fill="#222" textLength="19" lengthAdjust="spacingAndGlyphs" >qPCR</text>
<text x="665.00" y="413.40" font-size="7" text-anchor="start" font-weight="normal" fill="#222" textLength="15" lengthAdjust="spacingAndGlyphs" >NGS</text>
</svg></body></html>
